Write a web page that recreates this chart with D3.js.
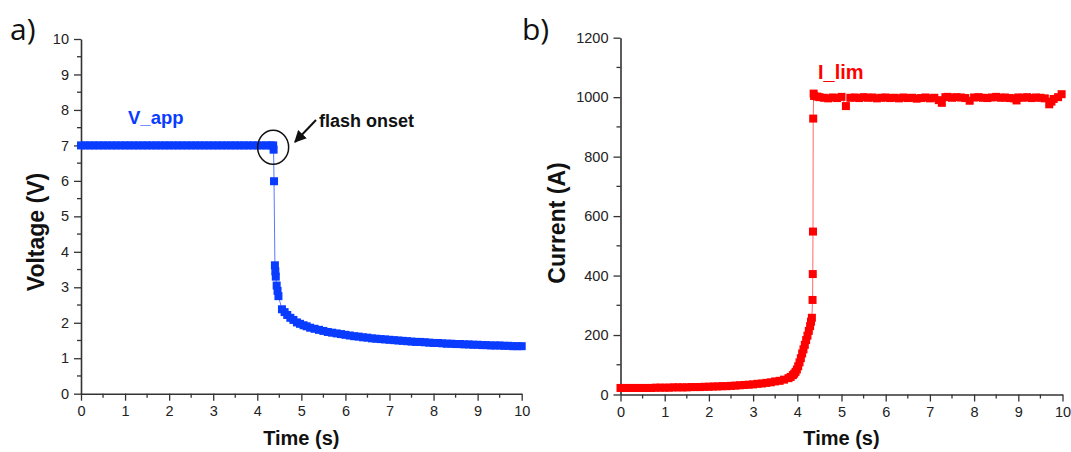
<!DOCTYPE html>
<html><head><meta charset="utf-8">
<script src="https://cdn.jsdelivr.net/npm/d3@7/dist/d3.min.js"></script>
<style>body{margin:0;background:#fff}svg{display:block}</style>
</head><body>
<svg id="c" width="1071" height="452"></svg>
<script>
// ---- Panel a) voltage data (read from picture) ----
const timeV = [0,0.1,0.2,0.3,0.4,0.5,0.6,0.7,0.8,0.9,1.0,1.1,1.2,1.3,1.4,1.5,1.6,1.7,1.8,1.9,2.0,2.1,2.2,2.3,2.4,2.5,2.6,2.7,2.8,2.9,3.0,3.1,3.2,3.3,3.4,3.5,3.6,3.7,3.8,3.9,4.0,4.1,4.2,4.3,4.36,4.37,4.38,4.40,4.41,4.42,4.44,4.46,4.48,4.56,4.62,4.68,4.75,4.82,4.90,4.97,5.05,5.12,5.2,5.3,5.4,5.5,5.6,5.7,5.8,5.9,6.0,6.1,6.2,6.3,6.4,6.5,6.6,6.7,6.8,6.9,7.0,7.1,7.2,7.3,7.4,7.5,7.6,7.7,7.8,7.9,8.0,8.1,8.2,8.3,8.4,8.5,8.6,8.7,8.8,8.9,9.0,9.1,9.2,9.3,9.4,9.5,9.6,9.7,9.8,9.9,10.0];
const voltage = [7,7,7,7,7,7,7,7,7,7,7,7,7,7,7,7,7,7,7,7,7,7,7,7,7,7,7,7,7,7,7,7,7,7,7,7,7,7,7,7,7,7,7,7,7,6.88,5.99,3.62,3.45,3.30,3.05,2.90,2.75,2.38,2.30,2.22,2.14,2.08,2.01,1.97,1.93,1.90,1.86,1.83,1.80,1.77,1.74,1.72,1.70,1.68,1.66,1.64,1.62,1.61,1.59,1.58,1.56,1.55,1.54,1.53,1.52,1.51,1.50,1.49,1.48,1.47,1.46,1.46,1.45,1.44,1.43,1.43,1.42,1.41,1.41,1.40,1.40,1.39,1.39,1.38,1.38,1.37,1.37,1.36,1.36,1.36,1.35,1.35,1.34,1.34,1.34];

// ---- Panel b) current data (read from picture) ----
const timeI = [0,0.1,0.2,0.3,0.4,0.5,0.6,0.7,0.8,0.9,1.0,1.1,1.2,1.3,1.4,1.5,1.6,1.7,1.8,1.9,2.0,2.1,2.2,2.3,2.4,2.5,2.6,2.7,2.8,2.9,3.0,3.1,3.2,3.3,3.4,3.5,3.6,3.7,3.8,3.85,3.9,3.93,3.96,3.99,4.02,4.05,4.08,4.11,4.14,4.17,4.20,4.23,4.26,4.29,4.31,4.33,4.345,4.35,4.355,4.36,4.37,4.38,4.45,4.5,4.6,4.7,4.8,4.9,5.0,5.1,5.2,5.3,5.4,5.5,5.6,5.7,5.8,5.9,6.0,6.1,6.2,6.3,6.4,6.5,6.6,6.7,6.8,6.9,7.0,7.1,7.2,7.27,7.35,7.4,7.5,7.6,7.7,7.8,7.9,8.0,8.1,8.2,8.3,8.4,8.5,8.6,8.7,8.8,8.9,8.96,9.0,9.1,9.2,9.3,9.4,9.5,9.6,9.7,9.75,9.8,9.9,9.98];
const current = [22,22,22,22,22,22,22,22,23,23,23,23,24,24,24,24,25,25,25,26,26,27,27,28,28,29,30,31,32,33,34,36,37,39,41,44,46,50,55,59,65,70,76,84,95,108,122,138,152,167,183,198,214,230,245,258,318,405,548,928,1012,1004,1002,1000,998,996,999,997,1001,970,998,999,997,1000,998,999,996,998,999,997,998,996,999,997,998,995,997,999,996,998,990,981,1000,1001,998,1000,999,997,988,999,1000,998,997,999,1001,998,999,997,996,989,999,998,1000,997,999,998,996,976,985,994,1000,1010];

const xTicks = [0,1,2,3,4,5,6,7,8,9,10];
const vTicks = [0,1,2,3,4,5,6,7,8,9,10];
const iTicks = [0,200,400,600,800,1000,1200];

const svg = d3.select('#c');
const axisColor = '#333';
const tickFont = '"Liberation Sans", Arial, sans-serif';

function panel(opts){
  const x = d3.scaleLinear().domain([0,10]).range(opts.xr);
  const y = d3.scaleLinear().domain(opts.yd).range(opts.yr);
  const g = svg.append('g');
  const xMinor = d3.range(0,10.001,0.5).filter(v=>Math.abs(v-Math.round(v))>0.01);
  const yMinor = opts.yMinor;
  g.selectAll('.xm').data(xMinor).join('line')
    .attr('x1',d=>x(d)).attr('x2',d=>x(d)).attr('y1',opts.yr[0]).attr('y2',opts.yr[0]+4)
    .attr('stroke',axisColor).attr('stroke-width',1.3);
  g.selectAll('.ym').data(yMinor).join('line')
    .attr('y1',d=>y(d)).attr('y2',d=>y(d)).attr('x1',opts.xr[0]).attr('x2',opts.xr[0]-4)
    .attr('stroke',axisColor).attr('stroke-width',1.3);
  const xa = g.append('g').attr('transform',`translate(0,${opts.yr[0]})`)
    .call(d3.axisBottom(x).tickValues(xTicks).tickFormat(d3.format('d')).tickSizeOuter(0).tickSizeInner(7).tickPadding(5));
  const ya = g.append('g').attr('transform',`translate(${opts.xr[0]},0)`)
    .call(d3.axisLeft(y).tickValues(opts.yTicks).tickFormat(d3.format('d')).tickSizeOuter(0).tickSizeInner(7).tickPadding(5));
  [xa,ya].forEach(a=>{
    a.selectAll('path').attr('stroke',axisColor).attr('stroke-width',1.6);
    a.selectAll('line').attr('stroke',axisColor).attr('stroke-width',1.3);
    a.selectAll('text').attr('fill','#222').style('font-family',tickFont).style('font-size','14.5px');
  });
  const pts = opts.t.map((t,i)=>[t,opts.v[i]]);
  g.append('path').datum(pts)
    .attr('d',d3.line().x(d=>x(d[0])).y(d=>y(d[1])))
    .attr('fill','none').attr('stroke',opts.lineColor).attr('stroke-width',1);
  const s = 8;
  g.selectAll('.m').data(pts).join('rect')
    .attr('x',d=>x(d[0])-s/2).attr('y',d=>y(d[1])-s/2).attr('width',s).attr('height',s)
    .attr('fill',opts.color);
  g.append('text').attr('x',(opts.xr[0]+opts.xr[1])/2).attr('y',445).attr('text-anchor','middle')
    .style('font-family',tickFont).style('font-weight','bold').style('font-size','20px').attr('fill','#111')
    .text('Time (s)');
  g.append('text').attr('transform',`translate(${opts.ytx},${opts.yty}) rotate(-90)`).attr('text-anchor','middle')
    .style('font-family',tickFont).style('font-weight','bold').style('font-size','23px').attr('fill','#111')
    .text(opts.ytitle);
  g.append('text').attr('x',opts.px).attr('y',40)
    .style('font-family','"Open Sans", "Noto Sans", sans-serif').style('font-size','30px').attr('fill','#111')
    .text(opts.plabel);
  return {x,y,g};
}

const A = panel({xr:[81,521.7], yr:[393.7,39], yd:[0,10], yTicks:vTicks,
  yMinor:d3.range(0.5,10,1), t:timeV, v:voltage, color:'#0a3cff', lineColor:'#5a78ff',
  ytitle:'Voltage (V)', ytx:44, yty:232, plabel:'a)', px:10});
const B = panel({xr:[620.5,1062.5], yr:[394.5,37.7], yd:[0,1200], yTicks:iTicks,
  yMinor:d3.range(100,1200,200), t:timeI, v:current, color:'#ff0000', lineColor:'#ff6a6a',
  ytitle:'Current (A)', ytx:565, yty:223, plabel:'b)', px:522});

A.g.append('text').attr('x',128).attr('y',124).style('font-family',tickFont).style('font-weight','bold')
  .style('font-size','18.5px').attr('fill','#0a3cff').text('V_app');
B.g.append('text').attr('x',818).attr('y',79).style('font-family',tickFont).style('font-weight','bold')
  .style('font-size','20px').attr('fill','#ff0000').text('I_lim');
A.g.append('ellipse').attr('cx',A.x(4.36)).attr('cy',A.y(6.95)).attr('rx',15.5).attr('ry',17)
  .attr('fill','none').attr('stroke','#111').attr('stroke-width',1.5);
svg.append('defs').append('marker').attr('id','ah').attr('viewBox','0 0 10 10').attr('refX',9).attr('refY',5)
  .attr('markerWidth',6).attr('markerHeight',6).attr('orient','auto-start-reverse')
  .append('path').attr('d','M0,0 L10,5 L0,10 z').attr('fill','#111');
A.g.append('line').attr('x1',316).attr('y1',120).attr('x2',295).attr('y2',142)
  .attr('stroke','#111').attr('stroke-width',2).attr('marker-end','url(#ah)');
A.g.append('text').attr('x',319).attr('y',127).style('font-family',tickFont).style('font-weight','bold')
  .style('font-size','18px').attr('fill','#111').text('flash onset');
</script>
</body></html>
